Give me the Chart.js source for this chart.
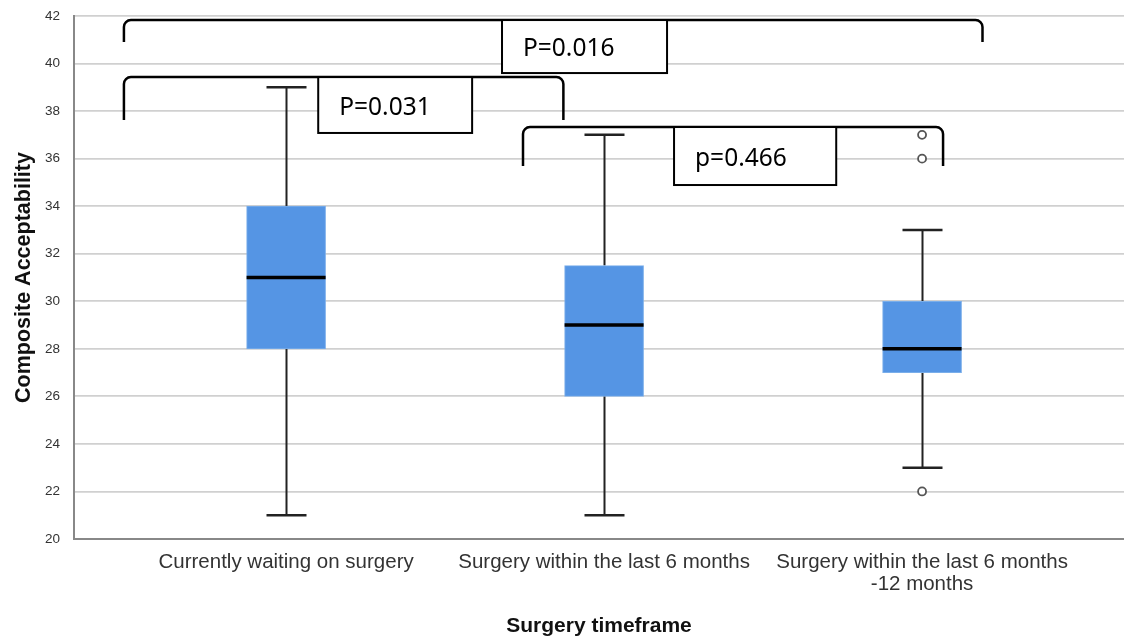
<!DOCTYPE html>
<html>
<head>
<meta charset="utf-8">
<script src="https://cdn.jsdelivr.net/npm/chart.js@4.4.1/dist/chart.umd.min.js"></script>
<style>
  html, body { margin: 0; padding: 0; background: #fff; }
  #wrap { width: 1124px; height: 639px; }
</style>
</head>
<body>
<div id="wrap"><canvas id="mycanvas"></canvas></div>
<script>
// categories on the x axis
var categories = [
  "Currently waiting on surgery",
  "Surgery within the last 6 months",
  ["Surgery within the last 6 months", "-12 months"]
];

// box plot summaries per category
var minValues    = [21, 21, 23];
var q1Values     = [28, 26, 27];
var medianValues = [31, 29, 28];
var q3Values     = [34, 31.5, 30];
var maxValues    = [39, 37, 33];

// outliers (category index, value)
var outlierCategory = [2, 2, 2];
var outlierValues   = [37, 36, 22];

var yTicks = [20, 22, 24, 26, 28, 30, 32, 34, 36, 38, 40, 42];

// significance brackets, in axis units (category index / score)
var pLabels       = ["P=0.016", "P=0.031", "p=0.466"];
var bracketStart  = [-0.51, -0.51, 0.745];
var bracketEnd    = [2.19, 0.872, 2.066];
var bracketTop    = [41.83, 39.43, 37.33];
var bracketLeg    = [40.91, 37.62, 35.69];
var labelBoxLeft  = [0.679, 0.101, 1.220];
var labelBoxRight = [1.198, 0.585, 1.730];
var labelBoxLow   = [39.60, 37.08, 34.89];

var boxes = [];
for (var i = 0; i < categories.length; i++) {
  boxes.push({ x: i, y: [q1Values[i], q3Values[i]] });
}
var outliers = [];
for (var j = 0; j < outlierValues.length; j++) {
  outliers.push({ x: outlierCategory[j], y: outlierValues[j] });
}

var boxParts = {
  id: 'boxParts',
  beforeDatasetsDraw: function(chart) {
    var xs = chart.scales.x, ys = chart.scales.y, ctx = chart.ctx;
    ctx.save();
    ctx.strokeStyle = '#222';
    for (var i = 0; i < categories.length; i++) {
      var cx = Math.round(xs.getPixelForValue(i)) + 0.5;
      ctx.lineWidth = 2;
      ctx.beginPath();
      ctx.moveTo(cx, ys.getPixelForValue(maxValues[i]));
      ctx.lineTo(cx, ys.getPixelForValue(q3Values[i]));
      ctx.moveTo(cx, ys.getPixelForValue(q1Values[i]));
      ctx.lineTo(cx, ys.getPixelForValue(minValues[i]));
      ctx.stroke();
      ctx.lineWidth = 2.5;
      ctx.beginPath();
      ctx.moveTo(cx - 20, ys.getPixelForValue(maxValues[i]));
      ctx.lineTo(cx + 20, ys.getPixelForValue(maxValues[i]));
      ctx.moveTo(cx - 20, ys.getPixelForValue(minValues[i]));
      ctx.lineTo(cx + 20, ys.getPixelForValue(minValues[i]));
      ctx.stroke();
    }
    ctx.restore();
  },
  afterDatasetsDraw: function(chart) {
    var xs = chart.scales.x, ys = chart.scales.y, ctx = chart.ctx;
    ctx.save();
    ctx.strokeStyle = '#000';
    ctx.lineWidth = 3.5;
    for (var i = 0; i < categories.length; i++) {
      var cx = xs.getPixelForValue(i);
      var my = ys.getPixelForValue(medianValues[i]);
      ctx.beginPath();
      ctx.moveTo(cx - 39.5, my);
      ctx.lineTo(cx + 39.5, my);
      ctx.stroke();
    }
    ctx.restore();
  },
  afterDraw: function(chart) {
    var xs = chart.scales.x, ys = chart.scales.y, ctx = chart.ctx;
    ctx.save();
    for (var i = 0; i < pLabels.length; i++) {
      var x0 = xs.getPixelForValue(bracketStart[i]);
      var x1 = xs.getPixelForValue(bracketEnd[i]);
      var top = ys.getPixelForValue(bracketTop[i]);
      var leg = ys.getPixelForValue(bracketLeg[i]);
      ctx.strokeStyle = '#000';
      ctx.lineWidth = 2.5;
      ctx.beginPath();
      ctx.moveTo(x0, leg);
      ctx.arcTo(x0, top, x0 + 8, top, 7);
      ctx.arcTo(x1, top, x1, top + 8, 7);
      ctx.lineTo(x1, leg);
      ctx.stroke();

      var bl = xs.getPixelForValue(labelBoxLeft[i]);
      var br = xs.getPixelForValue(labelBoxRight[i]);
      var bb = ys.getPixelForValue(labelBoxLow[i]);
      ctx.fillStyle = '#fff';
      ctx.fillRect(bl, top, br - bl, bb - top);
      ctx.lineWidth = 2;
      ctx.strokeRect(bl, top, br - bl, bb - top);
      ctx.fillStyle = '#000';
      ctx.font = '24.5px "Noto Sans"';
      ctx.textAlign = 'left';
      ctx.textBaseline = 'middle';
      ctx.fillText(pLabels[i], bl + 21, (top + bb) / 2 + 2.5);
    }
    ctx.restore();
  }
};

var ctx = document.getElementById('mycanvas');

var BoxGraph = new Chart(ctx, {
  type: 'bar',
  data: {
    datasets: [
      {
        label: 'box',
        data: boxes,
        backgroundColor: '#5595e4',
        borderColor: '#7aaeea',
        borderWidth: 1,
        borderSkipped: false,
        barThickness: 79,
        order: 2
      },
      {
        type: 'scatter',
        label: 'outliers',
        data: outliers,
        pointRadius: 4,
        pointBackgroundColor: '#fff',
        pointBorderColor: '#555',
        pointBorderWidth: 1.8,
        order: 1
      }
    ]
  },
  options: {
    responsive: true,
    maintainAspectRatio: false,
    animation: false,
    layout: { autoPadding: false, padding: { top: 16, right: 0, left: 0, bottom: 0 } },
    plugins: {
      legend: { display: false },
      tooltip: { enabled: false }
    },
    scales: {
      x: {
        type: 'linear',
        offset: false,
        min: -0.667,
        max: 2.635,
        afterBuildTicks: function(scale) {
          scale.ticks = categories.map(function(c, i) { return { value: i }; });
        },
        afterFit: function(scale) { scale.height = 100; },
        grid: { display: false, offset: false },
        border: { display: true, color: '#888', width: 2 },
        ticks: {
          autoSkip: false,
          maxRotation: 0,
          padding: 4,
          color: '#333',
          font: { family: '"Liberation Sans", Arial', size: 20.5, lineHeight: 1.1 },
          callback: function(value) { return categories[value]; }
        },
        title: {
          display: true,
          text: 'Surgery timeframe',
          color: '#111',
          font: { family: '"Liberation Sans", Arial', size: 21, weight: 'bold' },
          padding: { top: 0, bottom: 0 }
        }
      },
      y: {
        min: 20,
        max: 42,
        afterBuildTicks: function(scale) {
          scale.ticks = yTicks.map(function(v) { return { value: v }; });
        },
        afterFit: function(scale) {
          scale.width = 74;
          scale.paddingTop = 0;
          scale.paddingBottom = 0;
        },
        grid: { color: '#d0d0d0', lineWidth: 1.8, drawTicks: false },
        border: { display: true, color: '#888', width: 2 },
        ticks: {
          padding: 14,
          color: '#333',
          font: { family: '"Liberation Sans", Arial', size: 13.5 }
        },
        title: {
          display: true,
          text: 'Composite Acceptability',
          color: '#111',
          font: { family: '"Liberation Sans", Arial', size: 21.5, weight: 'bold' },
          padding: { top: 11, bottom: 0 }
        }
      }
    }
  },
  plugins: [boxParts]
});
</script>
</body>
</html>
